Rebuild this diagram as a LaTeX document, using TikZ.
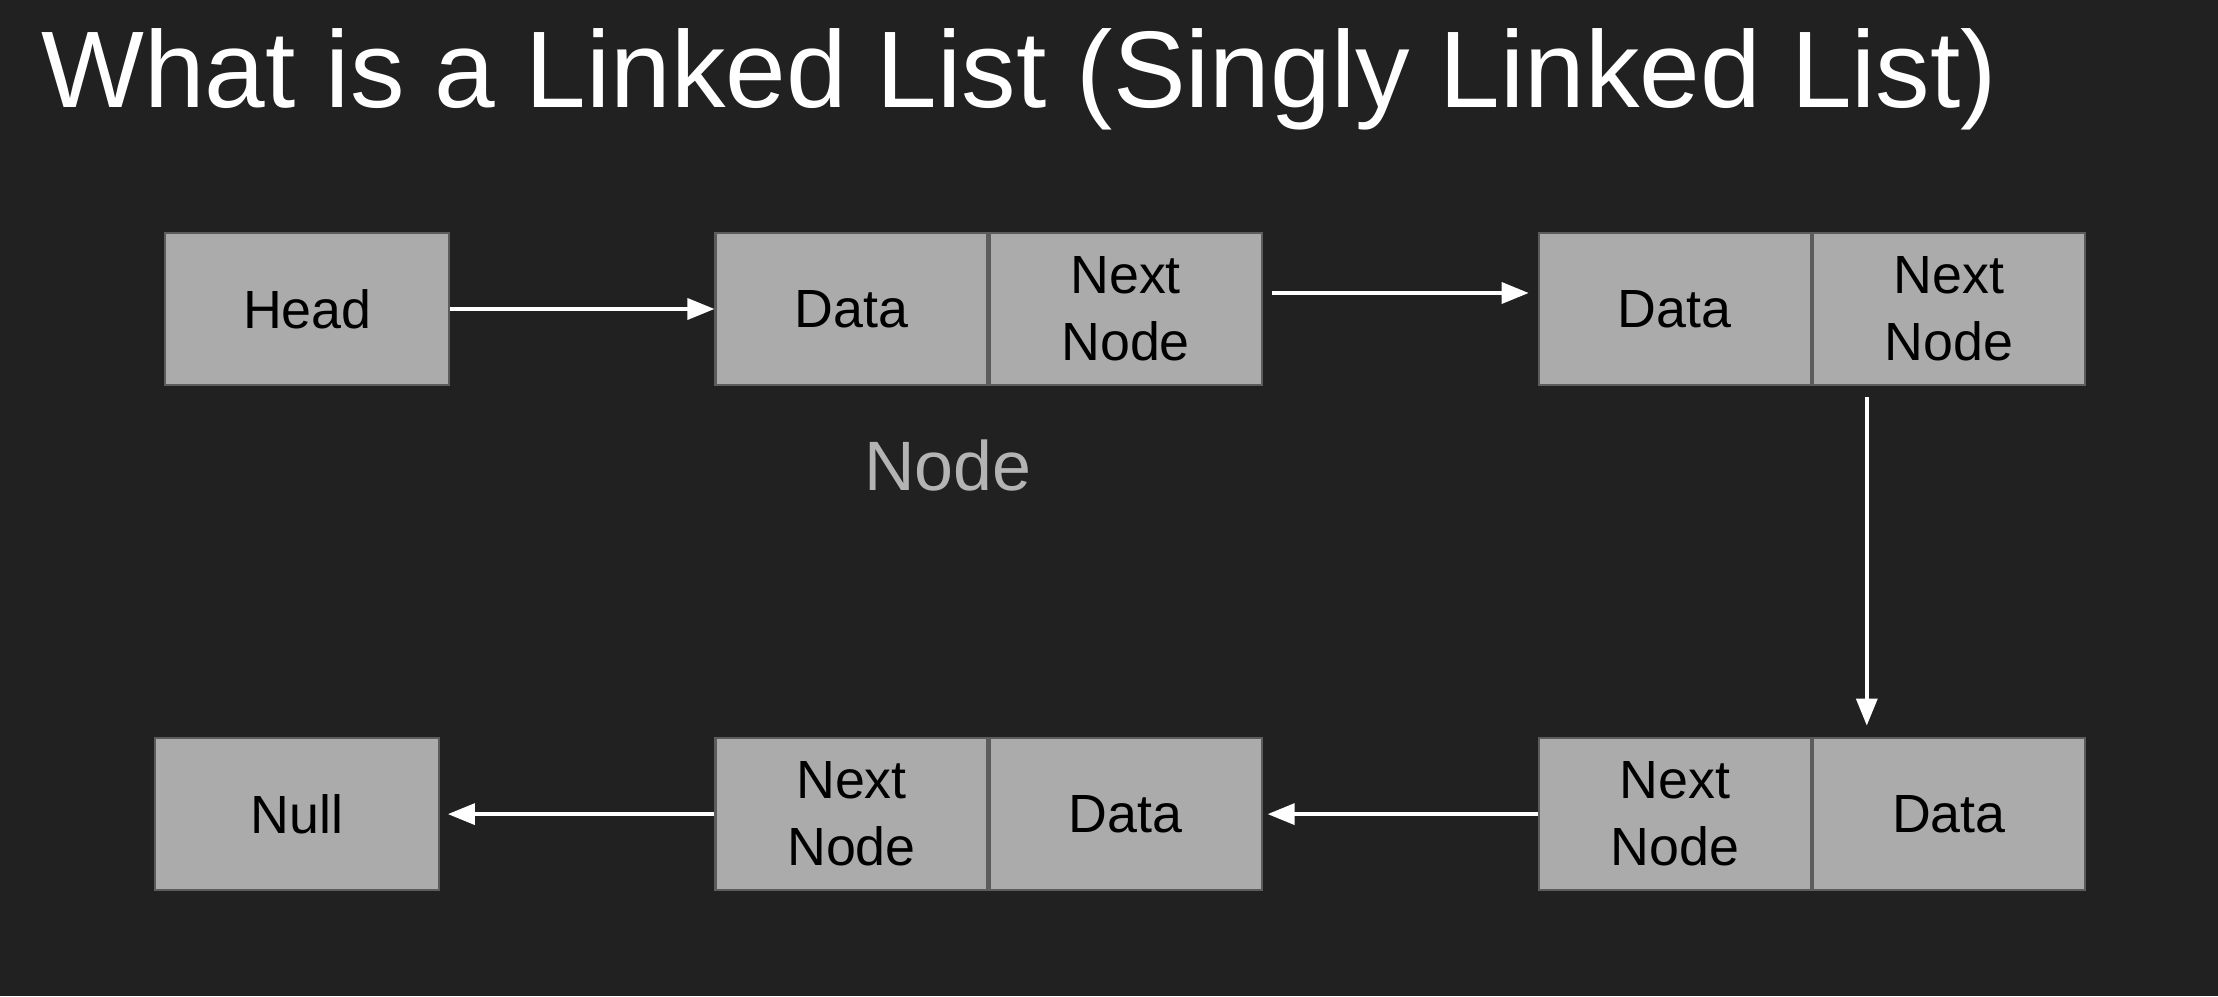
\documentclass[tikz,border=0pt]{standalone}
\usepackage{fontspec}
\setmainfont{Liberation Sans}
\usepackage{xcolor}
\usepackage{tikz}
\usetikzlibrary{positioning,arrows.meta}
\definecolor{slidebg}{HTML}{212121}
\definecolor{cellgray}{HTML}{ABABAB}
\definecolor{celledge}{HTML}{5C5C5C}
\definecolor{labelgray}{HTML}{B4B4B4}
\tikzset{cell node/.style={rectangle,fill=cellgray,draw=celledge,line width=.6pt,minimum width=2.72cm,minimum height=1.52cm,inner sep=0pt,align=center,text=black,font=\fontsize{15.3}{19}\selectfont},
end node/.style={cell node,minimum width=2.84cm},
link/.style={draw=white,line width=1pt,-{Triangle[length=.27cm,width=.21cm,fill=white]}},}

\begin{document}
\begin{tikzpicture}
	\fill[slidebg] (0,0) rectangle (22.18,9.96);
	\useasboundingbox (0,0) rectangle (22.18,9.96);

	\node[anchor=base west,text=white,font=\fontsize{31}{36}\selectfont] (title) at (.29,8.88) {What is a Linked List (Singly Linked List)};

	% top row
	\node[cell node] (2) at (8.515,6.87) {Data};
	\node[end node] (1) [left = 2.64cm of 2] {Head};
	\node[cell node] (3) [right = 0cm of 2] {Next\\Node};
	\node[cell node] (4) [right = 2.75cm of 3] {Data};
	\node[cell node] (5) [right = 0cm of 4] {Next\\Node};
	\node[anchor=base,text=labelgray,font=\fontsize{19.9}{24}\selectfont] (lbl) at (9.48,5.05) {Node};

	% bottom row
	\node[cell node] (6) [below = 3.51cm of 5] {Data};
	\node[cell node] (7) [left = 0cm of 6] {Next\\Node};
	\node[cell node] (8) [left = 2.75cm of 7] {Data};
	\node[cell node] (9) [left = 0cm of 8] {Next\\Node};
	\node[end node] (10) [left = 2.745cm of 9] {Null};

	\path
	(1.east) edge[link] (2.west)
	([yshift=.16cm]3.east) edge[link,shorten <=.09cm,shorten >=.09cm] ([yshift=.16cm]4.west)
	([xshift=.55cm]5.south west) edge[link,shorten <=.11cm,shorten >=.115cm] ([xshift=.55cm]6.north west)
	(7.west) edge[link,shorten >=.05cm] (8.east)
	(9.west) edge[link,shorten >=.08cm] (10.east)
	;
\end{tikzpicture}
\end{document}
